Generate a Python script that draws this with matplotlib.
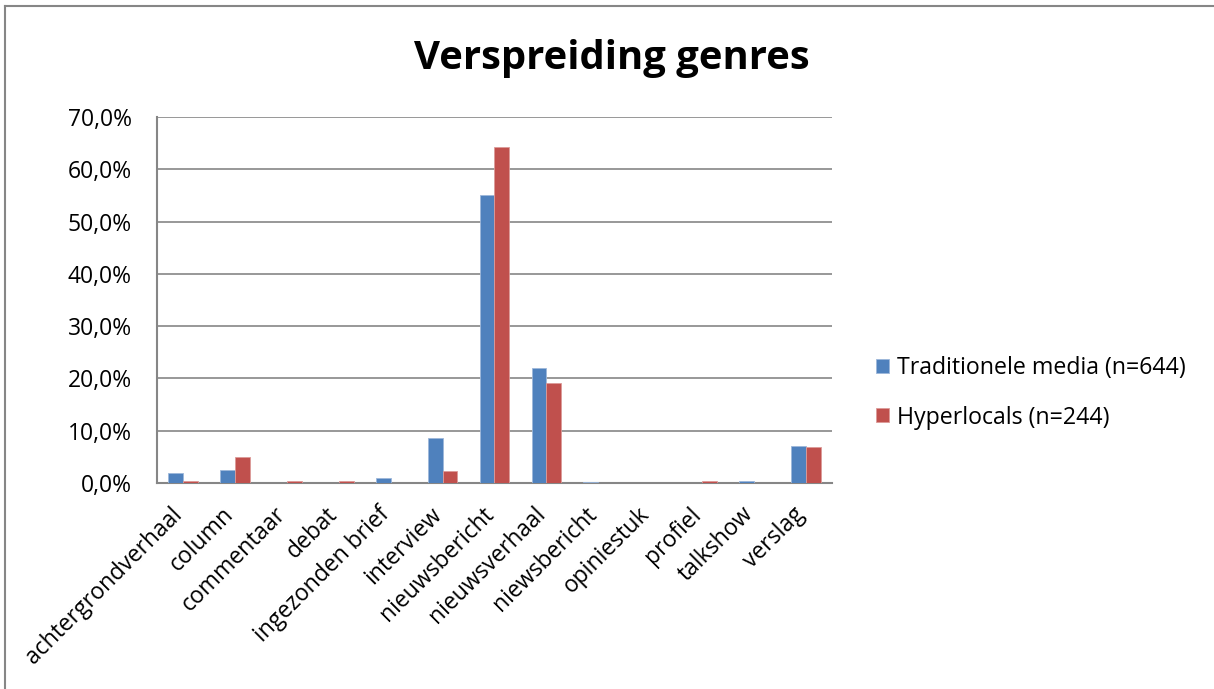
import matplotlib.pyplot as plt
import matplotlib.transforms as mtransforms
import numpy as np
from matplotlib.lines import Line2D
from matplotlib.ticker import FuncFormatter

# data (percentages)
genres = ["achtergrondverhaal", "column", "commentaar", "debat", "ingezonden brief",
          "interview", "nieuwsbericht", "nieuwsverhaal", "niewsbericht", "opiniestuk",
          "profiel", "talkshow", "verslag"]
traditionele = [2.0, 2.5, 0.0, 0.0, 0.9, 8.7, 55.1, 22.0, 0.2, 0.0, 0.0, 0.3, 7.0]
hyperlocals = [0.4, 4.9, 0.4, 0.4, 0.0, 2.3, 64.3, 19.1, 0.0, 0.0, 0.4, 0.0, 6.9]
series_names = ["Traditionele media (n=644)", "Hyperlocals (n=244)"]
yticks = [0, 10, 20, 30, 40, 50, 60, 70]

plt.rcParams["font.family"] = ["Open Sans", "DejaVu Sans"]

BLUE = "#4F81BD"
RED = "#C0504D"
GREY = "#868686"

fig = plt.figure(figsize=(12.14, 6.89), dpi=100)
ax = fig.add_axes([0.1293, 0.299, 0.556, 0.531])

x = np.arange(len(genres))
w = 0.286
ax.bar(x - w / 2, traditionele, w, color=BLUE, edgecolor="#9DB7DA", linewidth=0.6,
       label=series_names[0], zorder=3)
ax.bar(x + w / 2, hyperlocals, w, color=RED, edgecolor="#DC9A98", linewidth=0.6,
       label=series_names[1], zorder=3)

ax.set_xlim(-0.5, len(genres) - 0.5)
ax.set_ylim(0, 70)
ax.set_yticks(yticks)
ax.yaxis.set_major_formatter(FuncFormatter(lambda v, p: f"{v:.1f}%".replace(".", ",")))
ax.grid(axis="y", color=GREY, linewidth=1.2, zorder=0)

ax.set_xticks(x)
ax.set_xticklabels(genres, rotation=45, ha="right", va="top", rotation_mode="anchor")
ax.tick_params(axis="both", length=0, labelsize=16.5)
ax.tick_params(axis="y", pad=18)
ax.tick_params(axis="x", pad=14)

# nudge the slanted labels a bit to the left, like the original
shift = mtransforms.ScaledTranslation(-0.13, 0, fig.dpi_scale_trans)
for lbl in ax.get_xticklabels():
    lbl.set_transform(lbl.get_transform() + shift)

for s in ["top", "right"]:
    ax.spines[s].set_visible(False)
for s in ["left", "bottom"]:
    ax.spines[s].set_color(GREY)
    ax.spines[s].set_linewidth(1.5)

fig.text(0.5037, 0.915, "Verspreiding genres", ha="center", va="center",
         fontsize=28.8, fontweight="bold")

ax.legend(loc="center left", bbox_to_anchor=(1.065, 0.246), frameon=False, fontsize=16.7,
          borderpad=0, borderaxespad=0,
          handlelength=0.57, handleheight=0.57, handletextpad=0.35, labelspacing=1.08)

# outer chart frame (cropped on the right and bottom)
fig.add_artist(Line2D([0.0045, 0.0045], [0, 0.992], color=GREY, linewidth=1.5))
fig.add_artist(Line2D([0.0045, 1], [0.992, 0.992], color=GREY, linewidth=1.5))

fig.savefig("out.png", dpi=100)
